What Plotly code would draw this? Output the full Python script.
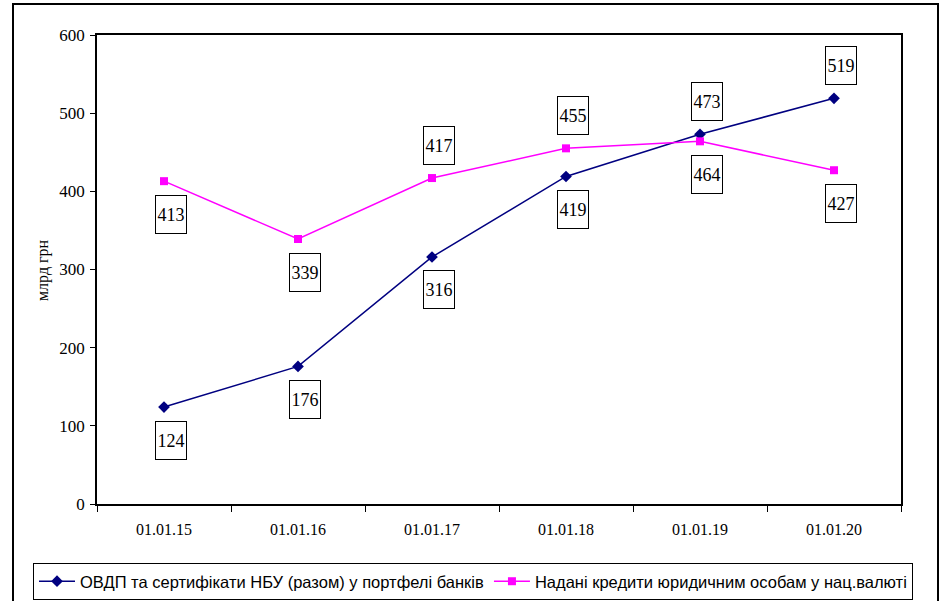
import plotly.graph_objects as go

dates = ["01.01.15", "01.01.16", "01.01.17", "01.01.18", "01.01.19", "01.01.20"]
ovdp = [124, 176, 316, 419, 473, 519]
credits = [413, 339, 417, 455, 464, 427]
ovdp_label_pos = ["below", "below", "below", "below", "above", "above"]
credit_label_pos = ["below", "below", "above", "above", "below", "below"]

name_ovdp = "ОВДП та сертифікати НБУ (разом) у портфелі банків"
name_cred = "Надані кредити юридичним особам у нац.валюті"

SERIF = "Times New Roman, Liberation Serif, serif"
SANS = "Arial, Liberation Sans, sans-serif"

W, H = 943, 601
L, R, T, B = 97, 42, 35, 97
pw, ph = W - L - R, H - T - B

def px_x(p):
    return (p - L) / pw

def px_y(p):
    return (H - B - p) / ph

fig = go.Figure()
fig.add_trace(go.Scatter(
    x=dates, y=ovdp, mode="lines+markers", name=name_ovdp,
    line=dict(color="#000080", width=1.5),
    marker=dict(symbol="diamond", size=9, color="#000080"),
))
fig.add_trace(go.Scatter(
    x=dates, y=credits, mode="lines+markers", name=name_cred,
    line=dict(color="#FF00FF", width=1.5),
    marker=dict(symbol="square", size=8, color="#FF00FF"),
))

annotations = []
for series, pos in ((ovdp, ovdp_label_pos), (credits, credit_label_pos)):
    for d, v, p in zip(dates, series, pos):
        annotations.append(dict(
            x=d, y=v, xref="x", yref="y", text=str(v), showarrow=False,
            xshift=7, yshift=(-33 if p == "below" else 33),
            font=dict(family=SERIF, size=18, color="black"),
            bgcolor="white", bordercolor="black", borderwidth=1,
            width=28, height=35, borderpad=1,
        ))

annotations.append(dict(
    text="млрд грн", textangle=-90, showarrow=False,
    xref="paper", yref="paper", x=px_x(43), y=px_y(270),
    xanchor="center", yanchor="middle",
    font=dict(family=SERIF, size=16, color="black"),
))

fig.update_layout(
    width=W, height=H,
    margin=dict(l=L, r=R, t=T, b=B, autoexpand=False),
    paper_bgcolor="white", plot_bgcolor="white",
    showlegend=True,
    legend=dict(
        orientation="h", x=px_x(33), y=px_y(563), xanchor="left", yanchor="top",
        bordercolor="black", borderwidth=1, bgcolor="white",
        font=dict(family=SANS, size=16.5, color="black"),
        itemwidth=36, entrywidth=0,
        tracegroupgap=0,
    ),
    xaxis=dict(
        type="category", showgrid=False, showline=True, linecolor="black", linewidth=1.5,
        mirror=True, ticks="outside", tickson="boundaries", ticklen=6, tickcolor="black",
        tickfont=dict(family=SERIF, size=16, color="black"),
        ticklabelstandoff=10,
        range=[-0.5, 5.5], fixedrange=True, zeroline=False,
    ),
    yaxis=dict(
        range=[0, 600], dtick=100, showgrid=False, showline=True, linecolor="black",
        linewidth=1.5, mirror=True, ticks="outside", ticklen=5, tickcolor="black",
        tickfont=dict(family=SERIF, size=17, color="black"),
        ticklabelstandoff=2,
        zeroline=False, fixedrange=True,
    ),
    annotations=annotations,
    shapes=[dict(
        type="rect", xref="paper", yref="paper",
        x0=px_x(13), x1=px_x(938), y0=px_y(612), y1=px_y(4),
        line=dict(color="black", width=2), fillcolor="rgba(0,0,0,0)", layer="below",
    )],
)

fig.write_html(
    "out.html",
    config={"displayModeBar": False},
    post_script="document.body.style.margin='0';document.body.style.overflow='hidden';",
)
